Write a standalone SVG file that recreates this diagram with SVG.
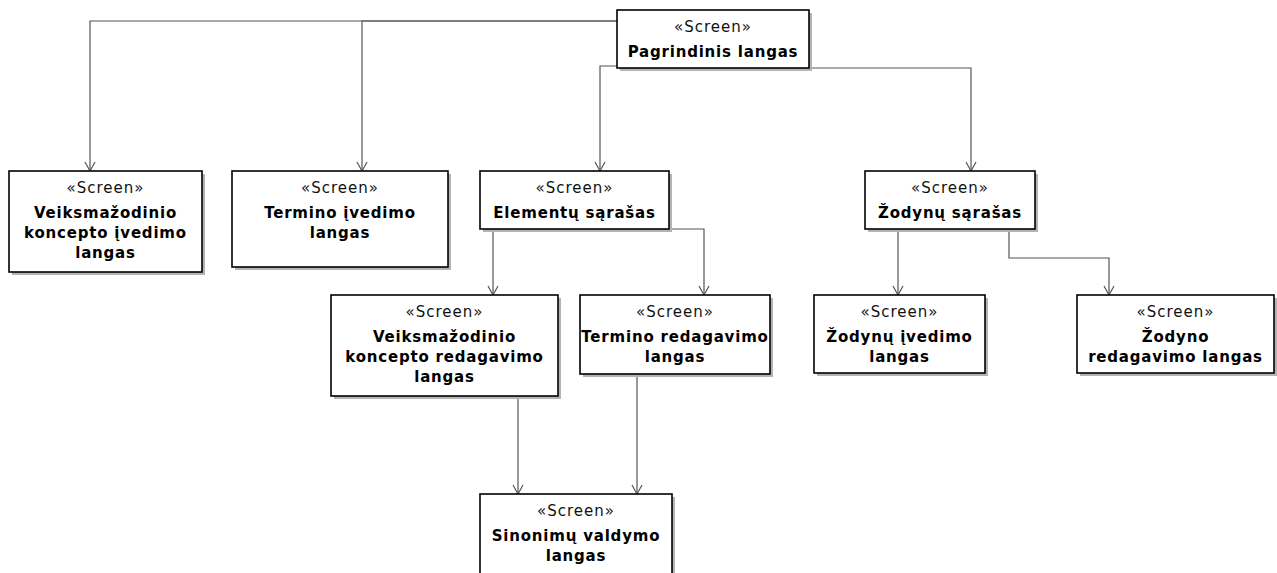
<svg xmlns="http://www.w3.org/2000/svg" width="1277" height="573" viewBox="0 0 1277 573">
  <style>
    .shadow { fill: #b4b4b4; }
    .box { fill: #ffffff; stroke: #000000; stroke-width: 1.6; }
    .st { font-family: "DejaVu Sans", Verdana, sans-serif; font-size: 15px; fill: #111; text-anchor: middle; letter-spacing: 1px; }
    .nm { font-family: "DejaVu Sans", Verdana, sans-serif; font-size: 15px; font-weight: bold; fill: #000; text-anchor: middle; letter-spacing: 0.8px; }
    .conn { fill: none; stroke: #555555; stroke-width: 1.2; marker-end: url(#open); }
  </style>
  <defs>
    <marker id="open" viewBox="0 0 12 12" refX="11" refY="6" markerWidth="12" markerHeight="12" markerUnits="userSpaceOnUse" orient="auto">
      <path d="M2,1 L11,6 L2,11" fill="none" stroke="#555555" stroke-width="1.2"/>
    </marker>
  </defs>

  <rect width="1277" height="573" fill="#ffffff"/>

  <g id="connectors">
    <path class="conn" d="M617,21 H90 V171"/>
    <path class="conn" d="M617,21 H362 V171"/>
    <path class="conn" d="M617,66 H600 V171"/>
    <path class="conn" d="M809,68 H971 V171"/>
    <path class="conn" d="M493,229 V295"/>
    <path class="conn" d="M669,229 H704 V295"/>
    <path class="conn" d="M898,229 V295"/>
    <path class="conn" d="M1009,229 V258 H1109 V295"/>
    <path class="conn" d="M518,396 V494"/>
    <path class="conn" d="M637,374 V494"/>
  </g>

  <g id="pagrindinis">
    <rect class="shadow" x="620" y="13" width="192" height="58"/>
    <rect class="box" x="617" y="10" width="192" height="58"/>
    <text class="st" x="713" y="32">«Screen»</text>
    <text class="nm" x="713" y="57">Pagrindinis langas</text>
  </g>

  <g id="veiksm-ivedimo">
    <rect class="shadow" x="12" y="174" width="193" height="101"/>
    <rect class="box" x="9" y="171" width="193" height="101"/>
    <text class="st" x="105.5" y="193">«Screen»</text>
    <text class="nm" x="105.5" y="218">Veiksmažodinio</text>
    <text class="nm" x="105.5" y="238">koncepto įvedimo</text>
    <text class="nm" x="105.5" y="258">langas</text>
  </g>

  <g id="termino-ivedimo">
    <rect class="shadow" x="235" y="174" width="216" height="96"/>
    <rect class="box" x="232" y="171" width="216" height="96"/>
    <text class="st" x="340" y="193">«Screen»</text>
    <text class="nm" x="340" y="218">Termino įvedimo</text>
    <text class="nm" x="340" y="238">langas</text>
  </g>

  <g id="elementu-sarasas">
    <rect class="shadow" x="483" y="174" width="189" height="58"/>
    <rect class="box" x="480" y="171" width="189" height="58"/>
    <text class="st" x="574.5" y="193">«Screen»</text>
    <text class="nm" x="574.5" y="218">Elementų sąrašas</text>
  </g>

  <g id="zodynu-sarasas">
    <rect class="shadow" x="868" y="174" width="170" height="58"/>
    <rect class="box" x="865" y="171" width="170" height="58"/>
    <text class="st" x="950" y="193">«Screen»</text>
    <text class="nm" x="950" y="218">Žodynų sąrašas</text>
  </g>

  <g id="veiksm-redagavimo">
    <rect class="shadow" x="334" y="298" width="227" height="101"/>
    <rect class="box" x="331" y="295" width="227" height="101"/>
    <text class="st" x="444.5" y="317">«Screen»</text>
    <text class="nm" x="444.5" y="342">Veiksmažodinio</text>
    <text class="nm" x="444.5" y="362">koncepto redagavimo</text>
    <text class="nm" x="444.5" y="382">langas</text>
  </g>

  <g id="termino-redagavimo">
    <rect class="shadow" x="583" y="298" width="190" height="79"/>
    <rect class="box" x="580" y="295" width="190" height="79"/>
    <text class="st" x="675" y="317">«Screen»</text>
    <text class="nm" x="675" y="342">Termino redagavimo</text>
    <text class="nm" x="675" y="362">langas</text>
  </g>

  <g id="zodynu-ivedimo">
    <rect class="shadow" x="817" y="298" width="171" height="78"/>
    <rect class="box" x="814" y="295" width="171" height="78"/>
    <text class="st" x="899.5" y="317">«Screen»</text>
    <text class="nm" x="899.5" y="342">Žodynų įvedimo</text>
    <text class="nm" x="899.5" y="362">langas</text>
  </g>

  <g id="zodyno-redagavimo">
    <rect class="shadow" x="1080" y="298" width="197" height="78"/>
    <rect class="box" x="1077" y="295" width="197" height="78"/>
    <text class="st" x="1175.5" y="317">«Screen»</text>
    <text class="nm" x="1175.5" y="342">Žodyno</text>
    <text class="nm" x="1175.5" y="362">redagavimo langas</text>
  </g>

  <g id="sinonimu-valdymo">
    <rect class="shadow" x="483" y="497" width="192" height="100"/>
    <rect class="box" x="480" y="494" width="192" height="100"/>
    <text class="st" x="576" y="516">«Screen»</text>
    <text class="nm" x="576" y="541">Sinonimų valdymo</text>
    <text class="nm" x="576" y="561">langas</text>
  </g>
</svg>
